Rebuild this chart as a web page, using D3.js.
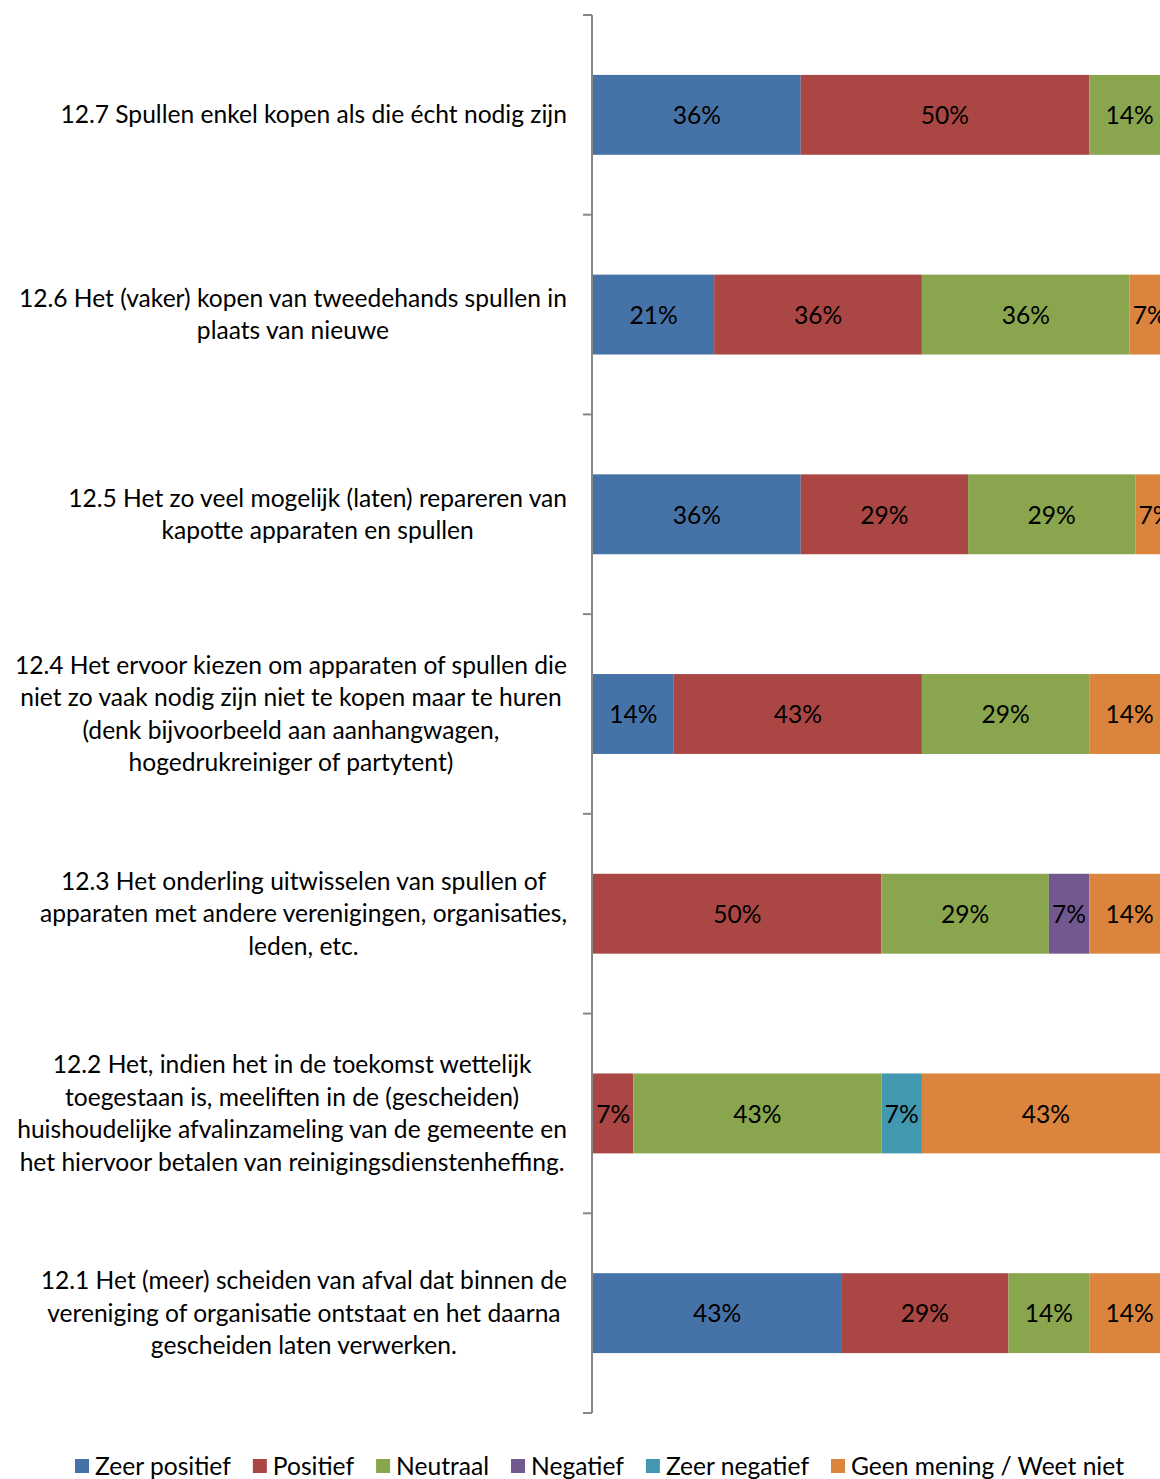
<!DOCTYPE html>
<html>
<head>
<meta charset="utf-8">
<script src="https://cdn.jsdelivr.net/npm/d3@7"></script>
<style>
  body { margin: 0; background: #fff; }
  svg { display: block; font-family: Lato, "Open Sans", sans-serif; }
</style>
</head>
<body>
<div id="vis"></div>
<script>
// categories, top to bottom
const categories = ["12.7", "12.6", "12.5", "12.4", "12.3", "12.2", "12.1"];

const labelLines = [
  ["12.7 Spullen enkel kopen als die écht nodig zijn"],
  ["12.6 Het (vaker) kopen van tweedehands spullen in", "plaats van nieuwe"],
  ["12.5 Het zo veel mogelijk (laten) repareren van", "kapotte apparaten en spullen"],
  ["12.4 Het ervoor kiezen om apparaten of spullen die", "niet zo vaak nodig zijn niet te kopen maar te huren", "(denk bijvoorbeeld aan aanhangwagen,", "hogedrukreiniger of partytent)"],
  ["12.3 Het onderling uitwisselen van spullen of", "apparaten met andere verenigingen, organisaties,", "leden, etc."],
  ["12.2 Het, indien het in de toekomst wettelijk", "toegestaan is, meeliften in de (gescheiden)", "huishoudelijke afvalinzameling van de gemeente en", "het hiervoor betalen van reinigingsdienstenheffing."],
  ["12.1 Het (meer) scheiden van afval dat binnen de", "vereniging of organisatie ontstaat en het daarna", "gescheiden laten verwerken."]
];

const seriesNames = ["Zeer positief", "Positief", "Neutraal", "Negatief", "Zeer negatief", "Geen mening / Weet niet"];
const seriesColors = ["#4572A7", "#AA4643", "#89A54E", "#71588F", "#4198AF", "#DB843D"];

const zeerPositief = [36, 21, 36, 14, 0, 0, 43];
const positief     = [50, 36, 29, 43, 50, 7, 29];
const neutraal     = [14, 36, 29, 29, 29, 43, 14];
const negatief     = [0, 0, 0, 0, 7, 0, 0];
const zeerNegatief = [0, 0, 0, 0, 0, 7, 0];
const geenMening   = [0, 7, 7, 14, 14, 43, 14];

const seriesValues = [zeerPositief, positief, neutraal, negatief, zeerNegatief, geenMening];

const W = 1160, H = 1479;
const fontSize = 24.6;

const svg = d3.select("#vis").append("svg")
  .attr("width", W)
  .attr("height", H);

// table for stacking
const rows = categories.map((c, i) => {
  const r = { cat: c };
  seriesNames.forEach((s, j) => r[s] = seriesValues[j][i]);
  return r;
});
const stacked = d3.stack().keys(seriesNames)(rows);

const x = d3.scaleLinear().domain([0, 100]).range([593, 1170]);
const y = d3.scaleBand().domain(categories).range([15, 1413])
  .paddingInner(0.6).paddingOuter(0.3);
const color = d3.scaleOrdinal().domain(seriesNames).range(seriesColors);

// bars
const layer = svg.append("g").selectAll("g")
  .data(stacked)
  .join("g")
  .attr("fill", d => color(d.key));

layer.selectAll("rect")
  .data(d => d.filter(p => p[1] - p[0] > 0))
  .join("rect")
  .attr("x", d => x(d[0]))
  .attr("y", d => y(d.data.cat))
  .attr("width", d => x(d[1]) - x(d[0]))
  .attr("height", y.bandwidth());

// value labels
layer.selectAll("text")
  .data(d => d.filter(p => p[1] - p[0] > 0))
  .join("text")
  .attr("x", d => (x(d[0]) + x(d[1])) / 2)
  .attr("y", d => y(d.data.cat) + y.bandwidth() / 2)
  .attr("dy", "0.38em")
  .attr("text-anchor", "middle")
  .attr("font-size", fontSize)
  .attr("fill", "#000")
  .text(d => (d[1] - d[0]) + "%");

// vertical axis with ticks at band boundaries
const step = y.step();
const tickYs = categories.map(c => y(c) - step * y.paddingInner() / 2);
tickYs.push(tickYs[tickYs.length - 1] + step);
const axis = svg.append("g").attr("stroke", "#868686").attr("stroke-width", 2);
axis.append("line")
  .attr("x1", 592).attr("x2", 592)
  .attr("y1", tickYs[0]).attr("y2", tickYs[tickYs.length - 1]);
axis.selectAll(".tick")
  .data(tickYs)
  .join("line")
  .attr("class", "tick")
  .attr("x1", 583).attr("x2", 592)
  .attr("y1", d => d).attr("y2", d => d);

// category labels: widest line right aligned at 567, lines centred
const lineH = 32.4;
const labels = svg.append("g").attr("font-size", fontSize).attr("fill", "#000");
categories.forEach((c, i) => {
  const lines = labelLines[i];
  const t = labels.append("text").attr("text-anchor", "middle");
  const cy = y(c) + y.bandwidth() / 2;
  const spans = t.selectAll("tspan")
    .data(lines)
    .join("tspan")
    .attr("y", (d, k) => cy + (k - (lines.length - 1) / 2) * lineH)
    .attr("dy", "0.35em")
    .text(d => d);
  const maxW = d3.max(spans.nodes(), n => n.getComputedTextLength());
  spans.attr("x", 567 - maxW / 2);
});

// legend
const legend = svg.append("g").attr("font-size", fontSize);
let lx = 75;
seriesNames.forEach((s, j) => {
  legend.append("rect")
    .attr("x", lx).attr("y", 1459)
    .attr("width", 14).attr("height", 14)
    .attr("fill", color(s));
  const t = legend.append("text")
    .attr("x", lx + 20).attr("y", 1466)
    .attr("dy", "0.38em")
    .attr("fill", "#000")
    .text(s);
  lx += 20 + t.node().getComputedTextLength() + 22;
});
</script>
</body>
</html>
